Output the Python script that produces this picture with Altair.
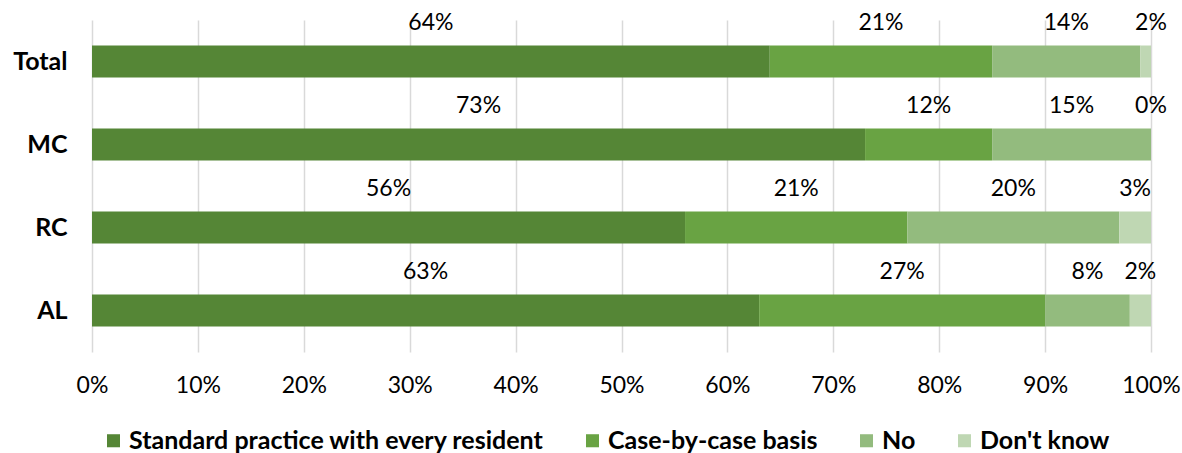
import altair as alt
import pandas as pd

# Survey groups (rows) and answer categories (stacked segments)
groups = ["Total", "MC", "RC", "AL"]
answers = ["Standard practice with every resident", "Case-by-case basis", "No", "Don't know"]
colors = ["#558636", "#69A343", "#93BB7E", "#BFD7B3"]

# Percent of respondents per answer, one list per group
total_vals = [64, 21, 14, 2]
mc_vals = [73, 12, 15, 0]
rc_vals = [56, 21, 20, 3]
al_vals = [63, 27, 8, 2]

x_ticks = list(range(0, 101, 10))

rows = []
for g, vals in zip(groups, [total_vals, mc_vals, rc_vals, al_vals]):
    for i, (a, v) in enumerate(zip(answers, vals)):
        rows.append({"group": g, "answer": a, "order": i, "value": v})
df = pd.DataFrame(rows)

FONT = "Lato"
REG = 23
BOLD = 25

base = alt.Chart(df).transform_stack(
    stack="value",
    groupby=["group"],
    as_=["x0", "x1"],
    sort=[alt.SortField("order", order="ascending")],
).transform_calculate(
    mid="(datum.x0 + datum.x1) / 2",
    label="datum.value + '%'",
)

y_enc = alt.Y(
    "group:N",
    sort=groups,
    scale=alt.Scale(paddingInner=0, paddingOuter=0),
    axis=alt.Axis(
        title=None,
        ticks=False,
        domain=False,
        labelFont=FONT,
        labelFontSize=BOLD,
        labelFontWeight="bold",
        labelColor="#000000",
        labelPadding=25,
    ),
)

x_scale = alt.Scale(domain=[0, 100], nice=False)

bars = base.mark_bar(size=32, clip=True).encode(
    x=alt.X(
        "x0:Q",
        scale=x_scale,
        axis=alt.Axis(
            title=None,
            values=x_ticks,
            labelExpr="datum.value + '%'",
            ticks=False,
            domain=False,
            grid=True,
            gridColor="#d9d9d9",
            gridWidth=1.5,
            labelFont=FONT,
            labelFontSize=REG,
            labelColor="#000000",
            labelPadding=22,
            labelFlush=False,
            labelOverlap=False,
        ),
    ),
    x2="x1:Q",
    y=y_enc,
    color=alt.Color(
        "answer:N",
        scale=alt.Scale(domain=answers, range=colors),
        legend=alt.Legend(
            title=None,
            orient="none",
            direction="horizontal",
            legendX=9,
            legendY=408,
            symbolType="square",
            symbolSize=170,
            symbolStrokeWidth=0,
            labelFont=FONT,
            labelFontSize=BOLD,
            labelFontWeight="bold",
            labelColor="#000000",
            labelOffset=3,
            columnPadding=36,
            padding=0,
            labelLimit=700,
        ),
    ),
    order=alt.Order("order:Q"),
)

labels = base.mark_text(
    font=FONT, fontSize=REG, color="#000000", baseline="middle", dy=-39
).encode(
    x=alt.X("mid:Q", scale=x_scale),
    y=alt.Y("group:N", sort=groups),
    text="label:N",
)

chart = (
    alt.layer(bars, labels)
    .properties(
        width=1059,
        height=332,
        autosize=alt.AutoSizeParams(type="none"),
        padding={"left": 92, "top": 20, "right": 31, "bottom": 101},
        background="#ffffff",
    )
    .configure_view(stroke=None)
)

chart.save("out.html", embed_options={"renderer": "svg", "actions": False})
